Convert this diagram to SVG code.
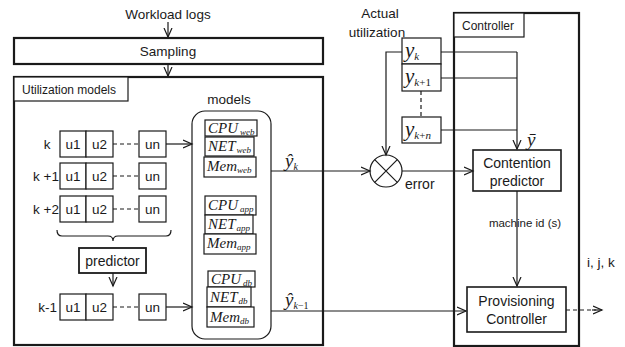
<svg xmlns="http://www.w3.org/2000/svg" width="625" height="347" viewBox="0 0 625 347">
<defs>
<marker id="arr" markerUnits="userSpaceOnUse" markerWidth="12" markerHeight="12" refX="9" refY="5" orient="auto" viewBox="0 0 12 10">
<path d="M0,1 L9,5 L0,9" fill="none" stroke="#1a1a1a" stroke-width="1.2"/>
</marker>
</defs>
<style>
text{font-family:"Liberation Sans",Arial,sans-serif;fill:#1a1a1a}
.t13{font-size:13.5px}
.t12{font-size:12px}
.t14{font-size:14px}
.m{font-family:"Liberation Serif","Times New Roman",serif;font-style:italic;font-size:15px}
.sub{font-family:"Liberation Serif","Times New Roman",serif;font-style:italic;font-size:9px}
.ybig{font-family:"Liberation Serif","Times New Roman",serif;font-style:italic;font-size:21px}
.ysub{font-family:"Liberation Serif","Times New Roman",serif;font-style:italic;font-size:11px}
.up{font-style:normal}
.box{fill:#fff;stroke:#1a1a1a;stroke-width:1.2}
.thick{fill:none;stroke:#1a1a1a;stroke-width:2.2}
.ln{fill:none;stroke:#1a1a1a;stroke-width:1.2}
.arr{fill:none;stroke:#1a1a1a;stroke-width:1.2;marker-end:url(#arr)}
.dash{fill:none;stroke:#1a1a1a;stroke-width:1.2;stroke-dasharray:4,3}
.mid{text-anchor:middle}
.end{text-anchor:end}
</style>
<rect width="625" height="347" fill="#fff"/>

<g id="workload-logs"><text class="t13 mid" x="168" y="19">Workload logs</text></g>

<g id="sampling">
<rect class="thick" x="14" y="38" width="309" height="26"/>
<text class="t13 mid" x="168" y="56">Sampling</text>
</g>

<g id="utilization-models">
<rect class="thick" x="14" y="77" width="309" height="268"/>
<rect class="box" x="14" y="77" width="114" height="24"/>
<text class="t12" x="22" y="94">Utilization models</text>
</g>

<g id="row-k">
<text class="t13 mid" x="47" y="149">k</text>
<rect class="box" x="60" y="131" width="26" height="26"/><text class="t13 mid" x="73" y="149">u1</text>
<rect class="box" x="86" y="131" width="27" height="26"/><text class="t13 mid" x="99.5" y="149">u2</text>
<rect class="box" x="139" y="131" width="27" height="26"/><text class="t13 mid" x="152.5" y="149">un</text>
</g>
<g id="row-k1">
<text class="t13 end" x="59" y="181">k +1</text>
<rect class="box" x="60" y="163" width="26" height="26"/><text class="t13 mid" x="73" y="181">u1</text>
<rect class="box" x="86" y="163" width="27" height="26"/><text class="t13 mid" x="99.5" y="181">u2</text>
<rect class="box" x="139" y="163" width="27" height="26"/><text class="t13 mid" x="152.5" y="181">un</text>
</g>
<g id="row-k2">
<text class="t13 end" x="59" y="214">k +2</text>
<rect class="box" x="60" y="196" width="26" height="26"/><text class="t13 mid" x="73" y="214">u1</text>
<rect class="box" x="86" y="196" width="27" height="26"/><text class="t13 mid" x="99.5" y="214">u2</text>
<rect class="box" x="139" y="196" width="27" height="26"/><text class="t13 mid" x="152.5" y="214">un</text>
</g>
<g id="row-km1">
<text class="t13 end" x="57" y="312">k-1</text>
<rect class="box" x="60" y="294" width="26" height="26"/><text class="t13 mid" x="73" y="312">u1</text>
<rect class="box" x="86" y="294" width="27" height="26"/><text class="t13 mid" x="99.5" y="312">u2</text>
<rect class="box" x="139" y="294" width="27" height="26"/><text class="t13 mid" x="152.5" y="312">un</text>
</g>

<g id="predictor">
<rect class="box" x="79" y="248" width="67" height="25" style="stroke-width:1.8"/>
<text class="t14 mid" x="112.5" y="266">predictor</text>
</g>

<g id="models">
<text class="t13 mid" x="229" y="104">models</text>
<rect class="box" x="192" y="111" width="79" height="228" rx="13"/>
<rect class="box" x="205" y="120" width="52" height="16"/><text x="208" y="133"><tspan class="m">CPU</tspan><tspan class="sub" dx="2" dy="2">web</tspan></text>
<rect class="box" x="205" y="137" width="49" height="19"/><text x="208" y="151"><tspan class="m">NET</tspan><tspan class="sub" dx="1" dy="2">web</tspan></text>
<rect class="box" x="204" y="157" width="52" height="20"/><text x="207" y="171"><tspan class="m">Mem</tspan><tspan class="sub" dy="2">web</tspan></text>
<rect class="box" x="205" y="196" width="51" height="19"/><text x="208" y="210"><tspan class="m">CPU</tspan><tspan class="sub" dx="2" dy="2">app</tspan></text>
<rect class="box" x="205" y="215" width="48" height="19"/><text x="208" y="229"><tspan class="m">NET</tspan><tspan class="sub" dx="1" dy="2">app</tspan></text>
<rect class="box" x="204" y="234" width="52" height="20"/><text x="207" y="248"><tspan class="m">Mem</tspan><tspan class="sub" dy="2">app</tspan></text>
<rect class="box" x="208" y="271" width="47" height="16"/><text x="211" y="284"><tspan class="m">CPU</tspan><tspan class="sub" dx="2" dy="2">db</tspan></text>
<rect class="box" x="207" y="287" width="44" height="20"/><text x="210" y="302"><tspan class="m">NET</tspan><tspan class="sub" dx="1" dy="2">db</tspan></text>
<rect class="box" x="207" y="307" width="47" height="20"/><text x="210" y="322"><tspan class="m">Mem</tspan><tspan class="sub" dy="2">db</tspan></text>
</g>

<g id="actual-utilization">
<text class="t13 mid" x="380" y="18">Actual</text>
<text class="t13 mid" x="377" y="37">utilization</text>
</g>

<g id="y-values">
<rect class="box" x="402" y="38" width="39" height="26"/><text x="405" y="57"><tspan class="ybig">y</tspan><tspan class="ysub" dy="3">k</tspan></text>
<rect class="box" x="402" y="64" width="39" height="27"/><text x="405" y="83"><tspan class="ybig">y</tspan><tspan class="ysub" dy="3">k</tspan><tspan class="ysub up">+1</tspan></text>
<rect class="box" x="402" y="117" width="39" height="26"/><text x="405" y="136"><tspan class="ybig">y</tspan><tspan class="ysub" dy="3">k</tspan><tspan class="ysub up">+</tspan><tspan class="ysub">n</tspan></text>
</g>

<g id="error-junction">
<circle cx="386" cy="171" r="16" class="box"/>
<path class="ln" d="M374.7,159.7 L397.3,182.3 M397.3,159.7 L374.7,182.3"/>
<text class="t14" x="405" y="189">error</text>
</g>

<g id="controller">
<rect class="thick" x="454" y="13" width="125" height="333"/>
<rect class="box" x="454" y="13" width="70" height="24"/>
<text class="t12" x="462" y="30">Controller</text>
</g>

<g id="contention-predictor">
<rect class="box" x="473" y="150" width="88" height="41" style="stroke-width:1.6"/>
<text class="t14 mid" x="517" y="168">Contention</text>
<text class="t14 mid" x="517" y="186">predictor</text>
</g>

<g id="provisioning-controller">
<rect class="box" x="467" y="287" width="99" height="45" style="stroke-width:1.6"/>
<text class="t14 mid" x="516.5" y="306">Provisioning</text>
<text class="t14 mid" x="516.5" y="324">Controller</text>
</g>

<g id="connectors">
<path class="arr" d="M168,22 V37"/>
<path class="arr" d="M168,64 V76"/>
<path class="dash" d="M113,144 H139 M113,176 H139 M113,209 H139 M113,307 H139"/>
<path class="arr" d="M166,144 H192"/>
<path class="arr" d="M166,307 H192"/>
<path class="ln" d="M57,230 Q57,236 62,236 L108,236 Q113,236 113,241 Q113,236 118,236 L166,236 Q171,236 171,230"/>
<path class="arr" d="M113,273 V286"/>
<path class="arr" d="M271,171 H370"/>
<path class="arr" d="M271,311 H466"/>
<path class="arr" d="M402,171 H473"/>
<path class="dash" d="M421,91 V117"/>
<path class="ln" d="M441,52 H517 M441,78 H517 M441,130 H517"/>
<path class="arr" d="M517,52 V149"/>
<path class="arr" d="M402,52 H386 V155"/>
<path class="arr" d="M517,191 V286"/>
<path class="dash" d="M566,310 H596"/>
<path class="arr" d="M592,310 H602"/>
</g>

<g id="labels">
<text x="285" y="167"><tspan class="ybig" style="font-size:19px">ŷ</tspan><tspan class="ysub" style="font-size:10px" dy="3">k</tspan></text>
<text x="285" y="306"><tspan class="ybig" style="font-size:19px">ŷ</tspan><tspan class="ysub" style="font-size:10px" dy="3">k</tspan><tspan class="ysub up" style="font-size:10px">−1</tspan></text>
<text class="ybig" x="527" y="146" style="font-size:19px">ȳ</text>
<text class="mid" x="525" y="227" style="font-size:11.5px">machine id (s)</text>
<text class="t13" x="587" y="267">i, j, k</text>
</g>
</svg>
